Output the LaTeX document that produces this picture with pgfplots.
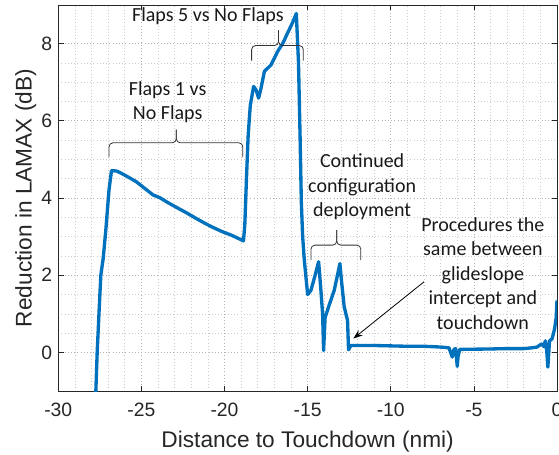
\documentclass[border=0pt]{standalone}
\usepackage{pgfplots}
\pgfplotsset{compat=1.18}
\usepackage{fontspec}
\setmainfont{Liberation Sans}
\newfontfamily\calibri{Carlito}
\usetikzlibrary{arrows.meta}

\definecolor{mblue}{RGB}{0,114,189}
\definecolor{axgray}{RGB}{38,38,38}

\begin{document}
\begin{tikzpicture}
\begin{axis}[
    scale only axis,
    width=374pt, height=289.5pt,
    xmin=-30, xmax=0,
    ymin=-1, ymax=9,
    xtick={-30,-25,...,0},
    ytick={0,2,4,6,8},
    minor x tick num=4,
    minor y tick num=3,
    grid=both,
    major grid style={dotted, gray!60, line width=0.5pt},
    minor grid style={dotted, gray!40, line width=0.5pt},
    axis line style={axgray, line width=0.6pt},
    tick style={axgray, line width=0.5pt},
    tick align=inside,
    major tick length=4pt,
    minor tick length=0pt,
    /pgf/number format/assume math mode=true,
    ticklabel style={font=\fontsize{14.5}{17}\selectfont, text=axgray},
    xticklabel style={yshift=-5.5pt},
    yticklabel style={xshift=-1pt},
    xlabel={Distance to Touchdown (nmi)},
    ylabel={Reduction in LAMAX (dB)},
    label style={font=\fontsize{17}{20}\selectfont, text=axgray},
    xlabel style={at={(axis description cs:0.5,-0.145)}, anchor=base},
    ylabel style={at={(axis description cs:-0.0535,0.5)}, anchor=base},
  ]

  \addplot[mblue, line width=2.5pt, line join=round] coordinates {
    (-27.80,-1.3) (-27.74,-1.0) (-27.66,0.0) (-27.52,1.3) (-27.44,2.0)
    (-27.30,2.43) (-27.14,3.17) (-26.95,4.2) (-26.80,4.71) (-26.5,4.70)
    (-26.2,4.64) (-25.7,4.52) (-25.3,4.42) (-24.8,4.25) (-24.3,4.08)
    (-23.9,4.01) (-23.4,3.88) (-22.9,3.76) (-22.3,3.62) (-21.7,3.47)
    (-21.2,3.35) (-20.7,3.24) (-20.2,3.14) (-19.6,3.04) (-19.2,2.96)
    (-18.86,2.89) (-18.78,3.3) (-18.68,4.5) (-18.58,5.6) (-18.45,6.4)
    (-18.25,6.89) (-18.1,6.8) (-17.95,6.59) (-17.8,6.85) (-17.6,7.28)
    (-17.2,7.45) (-16.8,7.8) (-16.5,8.0) (-16.2,8.28) (-15.9,8.55)
    (-15.68,8.78) (-15.55,7.5) (-15.45,5.5) (-15.38,3.9) (-15.3,3.0)
    (-15.2,2.39) (-15.0,1.50) (-14.8,1.61) (-14.55,2.0) (-14.34,2.35)
    (-14.2,1.6) (-14.1,1.0) (-14.04,0.05) (-13.95,0.9) (-13.74,1.18)
    (-13.4,1.61) (-13.06,2.30) (-12.95,1.8) (-12.8,1.18) (-12.6,0.83)
    (-12.54,0.07) (-12.4,0.18) (-11.0,0.18) (-10.0,0.17) (-9.0,0.16)
    (-8.0,0.16) (-7.0,0.14) (-6.5,0.12) (-6.4,0.0) (-6.3,-0.12)
    (-6.2,0.08) (-6.1,0.1) (-6.0,-0.36) (-5.95,-0.1) (-5.85,0.08)
    (-5.7,0.08) (-4.0,0.09) (-3.0,0.1) (-2.0,0.1) (-1.5,0.12)
    (-1.2,0.14) (-1.0,0.2) (-0.9,0.22) (-0.8,0.15) (-0.7,0.3)
    (-0.62,0.05) (-0.55,-0.38) (-0.45,0.3) (-0.3,0.35) (-0.15,0.6)
    (-0.05,0.9) (0,1.35)
  };

  % braces
  \draw[black!80, line width=0.6pt, rounded corners=3pt]
    (axis cs:-26.95,5.06) |- (axis cs:-22.9,5.43) -- (axis cs:-22.9,5.77);
  \draw[black!80, line width=0.6pt, rounded corners=3pt]
    (axis cs:-18.9,5.06) |- (axis cs:-22.9,5.43) -- (axis cs:-22.9,5.77);

  \draw[black!80, line width=0.6pt, rounded corners=3pt]
    (axis cs:-18.37,7.56) |- (axis cs:-16.75,7.95) -- (axis cs:-16.75,8.34);
  \draw[black!80, line width=0.6pt, rounded corners=3pt]
    (axis cs:-15.26,7.56) |- (axis cs:-16.75,7.95) -- (axis cs:-16.75,8.34);

  \draw[black!80, line width=0.6pt, rounded corners=3pt]
    (axis cs:-14.8,2.39) |- (axis cs:-13.25,2.78) -- (axis cs:-13.25,3.17);
  \draw[black!80, line width=0.6pt, rounded corners=3pt]
    (axis cs:-11.8,2.39) |- (axis cs:-13.25,2.78) -- (axis cs:-13.25,3.17);

  % arrow
  \draw[black, line width=0.6pt, -{Stealth[length=7pt, width=5pt]}]
    (axis cs:-8.0,1.83) -- (axis cs:-12.25,0.36);

  % annotations
  \node[font=\calibri\fontsize{15}{18.4}\selectfont, align=center, text=black!90]
    at (axis cs:-23.42,6.48) {Flaps 1 vs\\No Flaps};
  \node[font=\calibri\fontsize{15}{18.4}\selectfont, align=center, text=black!90]
    at (axis cs:-21.0,8.72) {Flaps 5 vs No Flaps};
  \node[font=\calibri\fontsize{15}{18.4}\selectfont, align=center, text=black!90]
    at (axis cs:-11.72,4.29) {Continued\\configuration\\deployment};
  \node[font=\calibri\fontsize{15}{18.4}\selectfont, align=center, text=black!90]
    at (axis cs:-4.46,2.05) {Procedures the\\same between\\glideslope\\intercept and\\touchdown};

  \coordinate (sw) at (rel axis cs:0,0);
  \coordinate (ne) at (rel axis cs:1,1);
\end{axis}
\pgfresetboundingbox
\useasboundingbox ([xshift=-43.7pt, yshift=-47.5pt]sw) rectangle ([xshift=1.5pt, yshift=3.75pt]ne);
\end{tikzpicture}
\end{document}
